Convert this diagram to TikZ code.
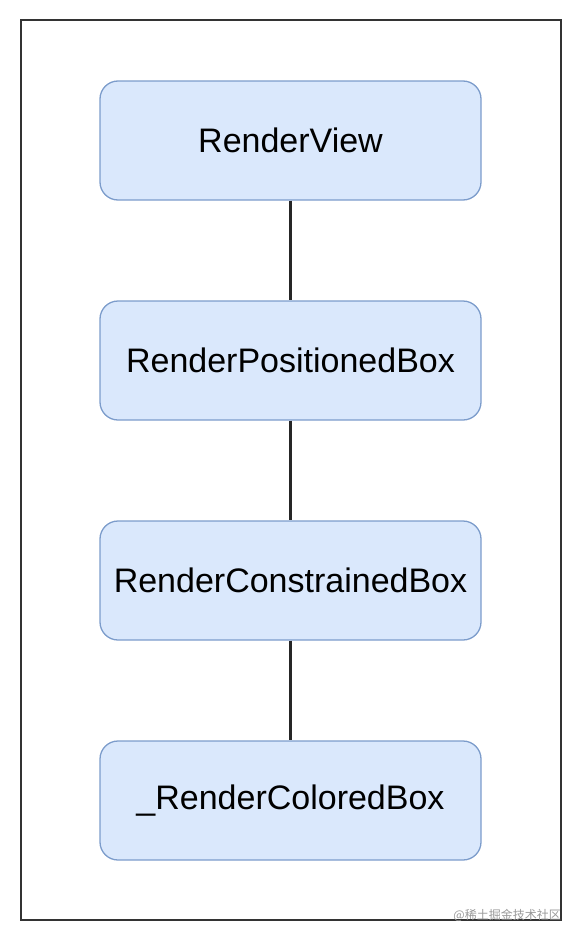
\documentclass[tikz,border=0pt]{standalone}
\usepackage{fontspec}
\setmainfont{Liberation Sans}
\newfontfamily\cjk{Noto Sans CJK SC}
\usetikzlibrary{positioning}
\definecolor{boxfill}{HTML}{DAE8FC}
\definecolor{boxline}{HTML}{7C9CCB}
\tikzstyle{render} = [rectangle, rounded corners=18pt, minimum width=381pt, minimum height=119pt, text centered, draw=boxline, line width=1.3pt, fill=boxfill, font=\fontsize{34}{38}\selectfont]
\tikzstyle{link} = [line width=2.6pt, black!85]
\tikzstyle{frame} = [line width=2.2pt, black!80]

\begin{document}
\begin{tikzpicture}[x=1pt, y=1pt, node distance=220pt]

\useasboundingbox (0,0) rectangle (582,-942);
\draw [frame] (21,-20) rectangle (561,-920);

%% NODES

\node (view) [render] at (290.5,-140.5) {RenderView};
\node (positioned) [render, below of=view] {RenderPositionedBox};
\node (constrained) [render, below of=positioned] {RenderConstrainedBox};
\node (colored) [render, below of=constrained] {\_RenderColoredBox};
\node (mark) [anchor=east, text=black!40, font=\cjk\fontsize{12}{14}\selectfont, inner sep=0pt] at (561,-915) {@稀土掘金技术社区};

%% LINKS

\draw [link] (view) -- (positioned);
\draw [link] (positioned) -- (constrained);
\draw [link] (constrained) -- (colored);

\end{tikzpicture}
\end{document}
